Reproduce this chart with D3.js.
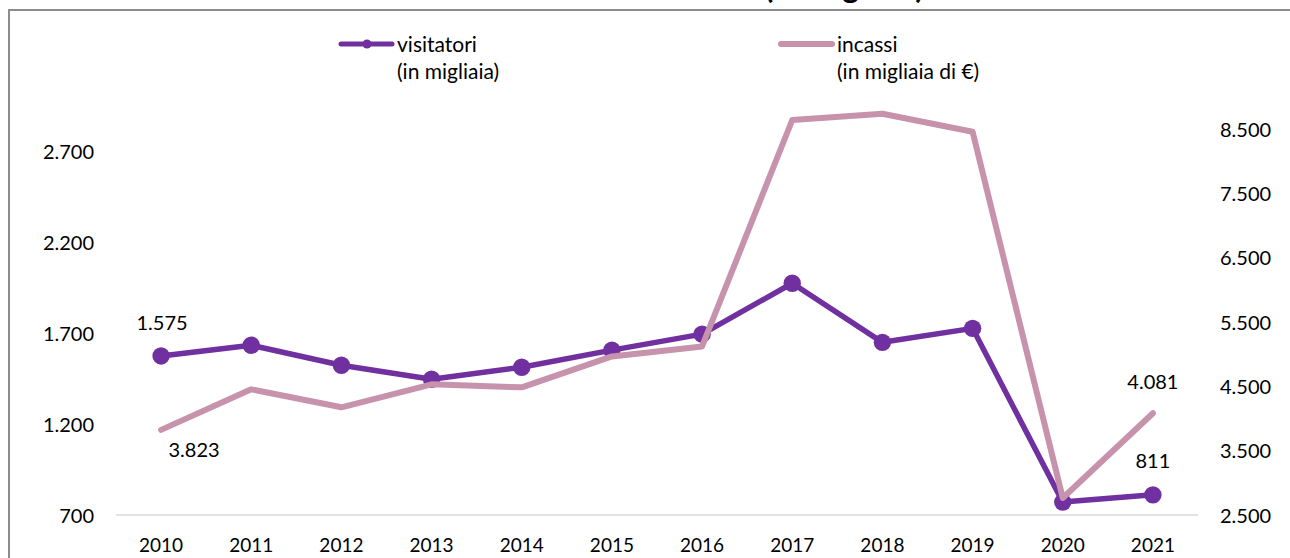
<!DOCTYPE html>
<html><head><meta charset="utf-8">
<script src="https://cdn.jsdelivr.net/npm/d3@7"></script>
<style>
html,body{margin:0;padding:0;background:#fff;}
svg{display:block;}
text{font-family:Lato,"Open Sans",sans-serif;fill:#000;}
</style></head><body>
<svg id="c" width="1290" height="558"></svg>
<script>
const years = ["2010","2011","2012","2013","2014","2015","2016","2017","2018","2019","2020","2021"];
const visitatori = [1575,1634,1524,1447,1513,1607,1695,1975,1650,1727,771,811];
const incassi = [3823,4453,4174,4531,4484,4965,5120,8640,8737,8458,2764,4081];
const leftTicks = [700,1200,1700,2200,2700];
const rightTicks = [2500,3500,4500,5500,6500,7500,8500];
const seriesNames = ["visitatori","incassi"];
const seriesSub = ["(in migliaia)","(in migliaia di €)"];
const titleText = "(in migliaia)";

const purple = "#7030A0", pink = "#C692AC";
const svg = d3.select("#c");
const loc = d3.formatLocale({decimal:",",thousands:".",grouping:[3],currency:["","€"]});
const fmt = loc.format(",d");

const x = d3.scaleBand().domain(years).range([116,1198]).padding(0);
const cx = d => x(d) + x.bandwidth()/2;
const yL = d3.scaleLinear().domain([700,2700]).range([515,151.5]);
const yR = d3.scaleLinear().domain([2500,8500]).range([515,129]);

// frame
svg.append("path").attr("d","M9,558 L9,10 L1290,10").attr("fill","none").attr("stroke","#8c8c8c").attr("stroke-width",2);
// title (cut off at the top edge, as in the reference)
svg.append("text").attr("x",924).attr("y",-2).attr("text-anchor","end").attr("font-weight","bold").attr("font-size",32).text(titleText);

// baseline
svg.append("line").attr("x1",116).attr("x2",1198).attr("y1",515).attr("y2",515).attr("stroke","#d9d9d9").attr("stroke-width",1.5);

// axes
const axL = svg.append("g").attr("transform","translate(94,0)")
  .call(d3.axisLeft(yL).tickValues(leftTicks).tickFormat(fmt).tickSize(0).tickPadding(0));
const axR = svg.append("g").attr("transform","translate(1220,0)")
  .call(d3.axisRight(yR).tickValues(rightTicks).tickFormat(fmt).tickSize(0).tickPadding(0));
const axX = svg.append("g").attr("transform","translate(0,515)")
  .call(d3.axisBottom(x).tickSize(0).tickPadding(0));
[axL,axR,axX].forEach(g=>{g.select(".domain").remove();
  g.selectAll("text").attr("font-family","Lato,'Open Sans',sans-serif").attr("font-size",20).attr("fill","#000");});
axX.selectAll("text").attr("font-size",19).attr("dy",null).attr("y",37).attr("dominant-baseline","auto");
axL.selectAll("text").attr("dy","0.36em");
axR.selectAll("text").attr("dy","0.36em");

// lines
const lineV = d3.line().x((d,i)=>cx(years[i])).y(d=>yL(d));
const lineI = d3.line().x((d,i)=>cx(years[i])).y(d=>yR(d));
svg.append("path").datum(visitatori).attr("d",lineV).attr("fill","none").attr("stroke",purple).attr("stroke-width",5.5).attr("stroke-linejoin","round").attr("stroke-linecap","round");
svg.selectAll("circle.v").data(visitatori).join("circle").attr("class","v")
  .attr("cx",(d,i)=>cx(years[i])).attr("cy",d=>yL(d)).attr("r",8.7).attr("fill",purple);
svg.append("path").datum(incassi).attr("d",lineI).attr("fill","none").attr("stroke",pink).attr("stroke-width",6).attr("stroke-linejoin","round").attr("stroke-linecap","round");

// data labels
const lbl = (t,xx,yy)=>svg.append("text").attr("x",xx).attr("y",yy).attr("text-anchor","middle").attr("font-size",20).text(t);
lbl(fmt(visitatori[0]), cx(years[0])+1, yL(visitatori[0])-26);
lbl(fmt(incassi[0]), cx(years[0])+33, yR(incassi[0])+27);
lbl(fmt(incassi[11]), cx(years[11]), yR(incassi[11])-24);
lbl(fmt(visitatori[11]), cx(years[11]), yL(visitatori[11])-27);

// legend
const lg = svg.append("g");
lg.append("line").attr("x1",341).attr("x2",392).attr("y1",44).attr("y2",44).attr("stroke",purple).attr("stroke-width",5).attr("stroke-linecap","round");
lg.append("circle").attr("cx",367).attr("cy",44).attr("r",4.5).attr("fill",purple);
lg.append("text").attr("x",397).attr("y",52).attr("font-size",21).text(seriesNames[0]);
lg.append("text").attr("x",397).attr("y",79).attr("font-size",21).text(seriesSub[0]);
lg.append("line").attr("x1",781).attr("x2",832).attr("y1",44).attr("y2",44).attr("stroke",pink).attr("stroke-width",6).attr("stroke-linecap","round");
lg.append("text").attr("x",837).attr("y",52).attr("font-size",21).text(seriesNames[1]);
lg.append("text").attr("x",837).attr("y",79).attr("font-size",21).text(seriesSub[1]);
</script>
</body></html>
